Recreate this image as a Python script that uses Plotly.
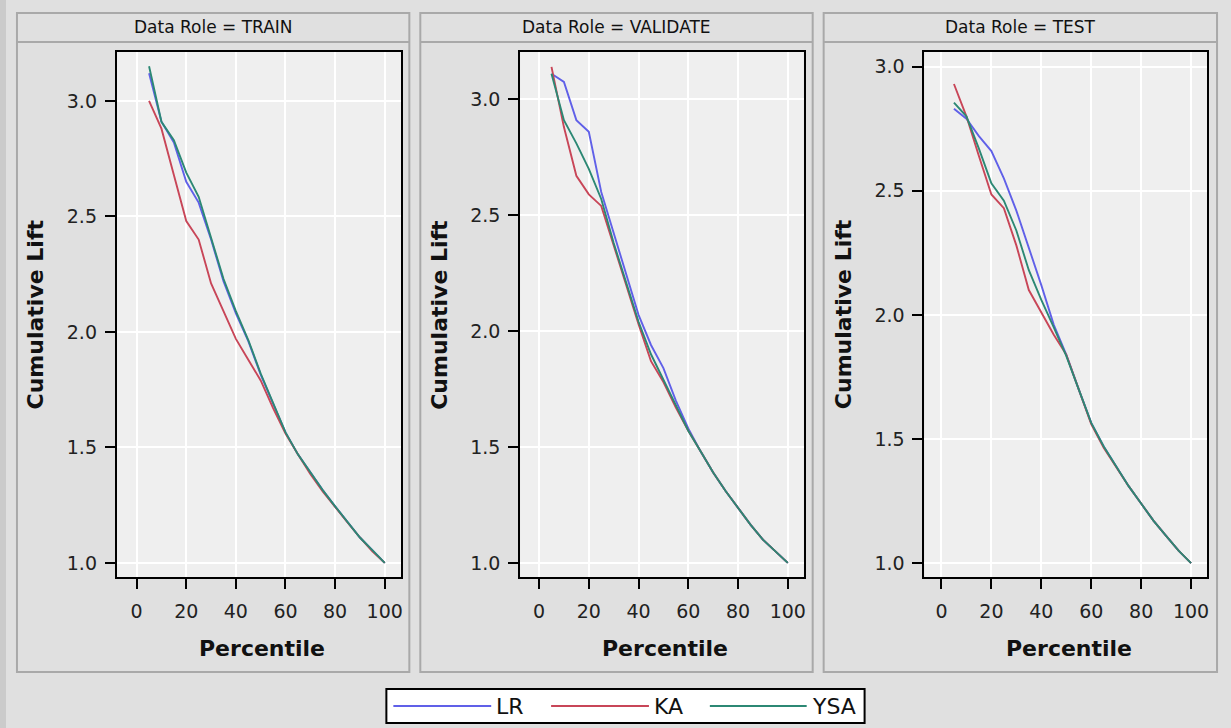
import plotly.graph_objects as go

W, H = 1231, 728

# ---------------- data ----------------
PERCENTILE = [5, 10, 15, 20, 25, 30, 35, 40, 45, 50, 55, 60, 65, 70, 75, 80, 85, 90, 95, 100]
ROLES = ["TRAIN", "VALIDATE", "TEST"]
MODELS = ["LR", "KA", "YSA"]

TRAIN_LR = [3.12, 2.91, 2.82, 2.65, 2.56, 2.40, 2.22, 2.08, 1.96, 1.815, 1.69, 1.565, 1.47, 1.39, 1.315, 1.245, 1.18, 1.11, 1.055, 1.0]
TRAIN_KA = [3.00, 2.88, 2.68, 2.48, 2.40, 2.21, 2.09, 1.97, 1.88, 1.79, 1.67, 1.56, 1.47, 1.385, 1.31, 1.24, 1.175, 1.11, 1.05, 1.0]
TRAIN_YSA = [3.15, 2.91, 2.83, 2.69, 2.585, 2.41, 2.23, 2.09, 1.965, 1.82, 1.69, 1.565, 1.47, 1.39, 1.315, 1.245, 1.18, 1.11, 1.055, 1.0]

VALIDATE_LR = [3.11, 3.075, 2.91, 2.86, 2.60, 2.42, 2.25, 2.07, 1.94, 1.84, 1.70, 1.58, 1.48, 1.39, 1.31, 1.235, 1.165, 1.10, 1.05, 1.0]
VALIDATE_KA = [3.14, 2.88, 2.67, 2.59, 2.54, 2.37, 2.19, 2.03, 1.87, 1.78, 1.67, 1.57, 1.48, 1.39, 1.31, 1.235, 1.165, 1.10, 1.05, 1.0]
VALIDATE_YSA = [3.11, 2.91, 2.81, 2.70, 2.57, 2.38, 2.21, 2.04, 1.90, 1.79, 1.68, 1.57, 1.48, 1.39, 1.31, 1.235, 1.165, 1.10, 1.05, 1.0]

TEST_LR = [2.83, 2.79, 2.72, 2.66, 2.55, 2.42, 2.27, 2.12, 1.96, 1.84, 1.70, 1.565, 1.47, 1.39, 1.31, 1.24, 1.17, 1.11, 1.05, 1.0]
TEST_KA = [2.93, 2.80, 2.64, 2.485, 2.43, 2.28, 2.10, 2.01, 1.92, 1.84, 1.70, 1.56, 1.465, 1.385, 1.31, 1.24, 1.17, 1.11, 1.05, 1.0]
TEST_YSA = [2.855, 2.80, 2.67, 2.53, 2.46, 2.34, 2.18, 2.06, 1.95, 1.835, 1.70, 1.565, 1.47, 1.39, 1.31, 1.24, 1.17, 1.11, 1.05, 1.0]

SERIES = {
    "TRAIN": [TRAIN_LR, TRAIN_KA, TRAIN_YSA],
    "VALIDATE": [VALIDATE_LR, VALIDATE_KA, VALIDATE_YSA],
    "TEST": [TEST_LR, TEST_KA, TEST_YSA],
}
X_TICKS = [0, 20, 40, 60, 80, 100]

# ---------------- style ----------------
COLORS = ["#6060e8", "#c84658", "#2c8874"]
FONT = "DejaVu Sans"


def fx(p):
    return p / W


def fy(p):
    return 1 - p / H


# pixel geometry of panels
PANEL_X = [(17, 410), (421, 814), (825, 1219)]
PLOT_X = [(117, 402), (521, 805), (926, 1209)]
PLOT_Y = (52, 577)
X_RANGES = [[-8.0, 106.7], [-7.6, 106.4], [-6.8, 106.4]]
Y_RANGES = [[0.939, 3.212], [0.939, 3.204], [0.944, 3.059]]

fig = go.Figure()

for i, role in enumerate(ROLES):
    suffix = "" if i == 0 else str(i + 1)
    for m, model in enumerate(MODELS):
        fig.add_trace(go.Scatter(
            x=PERCENTILE, y=SERIES[role][m], mode="lines", name=model,
            line=dict(color=COLORS[m], width=1.9),
            xaxis="x" + suffix, yaxis="y" + suffix, showlegend=False,
        ))

layout = dict(
    width=W, height=H,
    margin=dict(l=0, r=0, t=0, b=0),
    paper_bgcolor="#e0e0e0",
    plot_bgcolor="#efefef",
    showlegend=False,
    font=dict(family=FONT, color="#222"),
)

for i in range(3):
    suffix = "" if i == 0 else str(i + 1)
    axis_common = dict(
        ticks="outside", ticklen=10, tickwidth=2, tickcolor="black",
        showline=True, linewidth=2, linecolor="black", mirror=True,
        showgrid=True, gridcolor="#ffffff", gridwidth=2, zeroline=False,
        tickfont=dict(family=FONT, size=19, color="#222"),
    )
    layout["xaxis" + suffix] = dict(
        domain=[fx(PLOT_X[i][0]), fx(PLOT_X[i][1])], range=X_RANGES[i],
        anchor="y" + suffix, tickmode="array", tickvals=X_TICKS,
        ticktext=[str(v) for v in X_TICKS], ticklabelstandoff=6, **axis_common,
    )
    layout["yaxis" + suffix] = dict(
        domain=[fy(PLOT_Y[1]), fy(PLOT_Y[0])], range=Y_RANGES[i],
        anchor="x" + suffix, tickmode="linear", tick0=1.0, dtick=0.5,
        tickformat=".1f", ticklabelstandoff=4, **axis_common,
    )

shapes = [
    dict(type="rect", xref="paper", yref="paper", x0=0, x1=fx(6), y0=0, y1=1,
         fillcolor="#cbcbcb", line=dict(width=0), layer="below"),
]
annotations = []
for i, role in enumerate(ROLES):
    x0, x1 = PANEL_X[i]
    shapes.append(dict(type="rect", xref="paper", yref="paper",
                       x0=fx(x0), x1=fx(x1), y0=fy(672), y1=fy(13),
                       fillcolor="rgba(0,0,0,0)", line=dict(color="#a9a9a9", width=2), layer="below"))
    shapes.append(dict(type="line", xref="paper", yref="paper",
                       x0=fx(x0), x1=fx(x1), y0=fy(42), y1=fy(42),
                       line=dict(color="#a9a9a9", width=2), layer="below"))
    annotations.append(dict(text="Data Role = " + role, xref="paper", yref="paper",
                            x=fx((x0 + x1) / 2), y=fy(27.5), xanchor="center", yanchor="middle",
                            showarrow=False, font=dict(family=FONT, size=17, color="#111")))
    px0, px1 = PLOT_X[i]
    annotations.append(dict(text="<b>Percentile</b>", xref="paper", yref="paper",
                            x=fx((px0 + px1) / 2 + 3), y=fy(648), xanchor="center", yanchor="middle",
                            showarrow=False, font=dict(family=FONT, size=22, color="#111")))
    annotations.append(dict(text="<b>Cumulative Lift</b>", xref="paper", yref="paper",
                            x=fx(px0 - 81), y=fy((PLOT_Y[0] + PLOT_Y[1]) / 2), textangle=-90,
                            xanchor="center", yanchor="middle",
                            showarrow=False, font=dict(family=FONT, size=22, color="#111")))

# manual legend
shapes.append(dict(type="rect", xref="paper", yref="paper",
                   x0=fx(387), x1=fx(866), y0=fy(723), y1=fy(689),
                   fillcolor="white", line=dict(color="black", width=2), layer="above"))
LEG_LINE_X = [(394, 492), (552, 650), (711, 808)]
for m, model in enumerate(MODELS):
    a, b = LEG_LINE_X[m]
    shapes.append(dict(type="line", xref="paper", yref="paper",
                       x0=fx(a), x1=fx(b), y0=fy(706), y1=fy(706),
                       line=dict(color=COLORS[m], width=2), layer="above"))
    annotations.append(dict(text=model, xref="paper", yref="paper",
                            x=fx(b + 3), y=fy(706), xanchor="left", yanchor="middle",
                            showarrow=False, font=dict(family=FONT, size=22, color="#111")))

layout["shapes"] = shapes
layout["annotations"] = annotations
fig.update_layout(**layout)

fig.write_html(
    "out.html",
    config={"displayModeBar": False},
    post_script="document.body.style.margin='0';document.body.style.overflow='hidden';",
)
